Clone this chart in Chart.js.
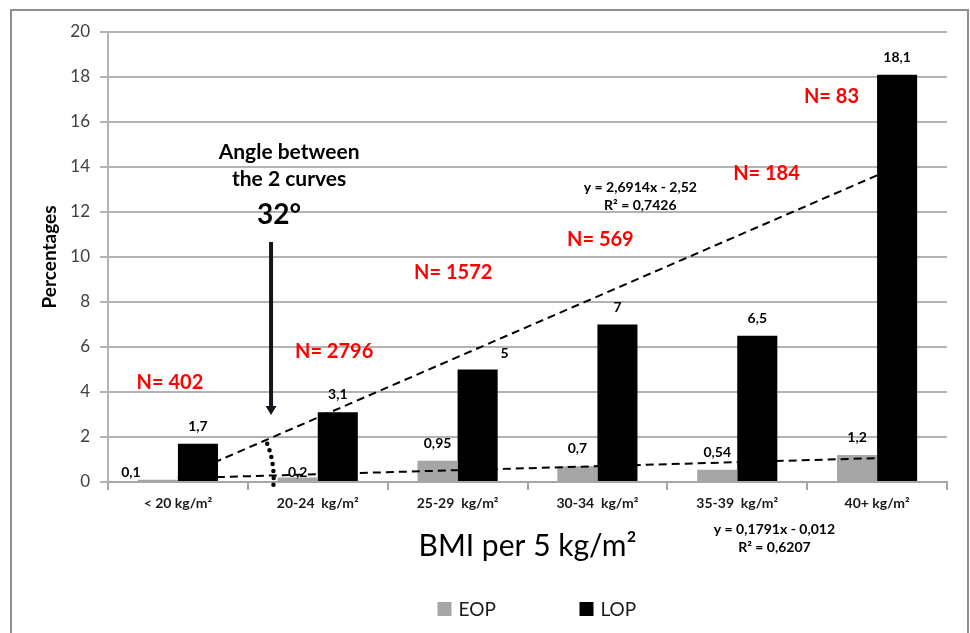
<!DOCTYPE html>
<html>
<head>
<meta charset="utf-8">
<script src="https://cdn.jsdelivr.net/npm/chart.js@4/dist/chart.umd.min.js"></script>
<style>
  html, body { margin: 0; padding: 0; background: #ffffff; }
  #wrap { width: 970px; height: 633px; position: relative; }
</style>
</head>
<body>
<div id="wrap"><canvas id="chart" width="970" height="633"></canvas></div>
<script>
// ---- data ----
const categories = ['< 20 kg/m²', '20-24  kg/m²', '25-29  kg/m²', '30-34  kg/m²', '35-39  kg/m²', '40+ kg/m²'];
const seriesNames = ['EOP', 'LOP'];
const eopValues = [0.1, 0.2, 0.95, 0.7, 0.54, 1.2];
const lopValues = [1.7, 3.1, 5, 7, 6.5, 18.1];
const sampleSizes = [402, 2796, 1572, 569, 184, 83];
const yTicks = [0, 2, 4, 6, 8, 10, 12, 14, 16, 18, 20];
const angleNote = ['Angle between', 'the 2 curves', '32°'];
const xTitle = 'BMI per 5 kg/m²';
const yTitle = 'Percentages';

const FONT = 'Lato, "Liberation Sans", sans-serif';
const EOP_COLOR = '#a6a6a6';
const LOP_COLOR = '#000000';

// least-squares fit with x = 1..n, as a spreadsheet linear trendline
function linearFit(vals) {
  const n = vals.length;
  const xs = vals.map((_, i) => i + 1);
  const mx = xs.reduce((a, b) => a + b, 0) / n;
  const my = vals.reduce((a, b) => a + b, 0) / n;
  let sxy = 0, sxx = 0, syy = 0;
  for (let i = 0; i < n; i++) {
    sxy += (xs[i] - mx) * (vals[i] - my);
    sxx += (xs[i] - mx) ** 2;
    syy += (vals[i] - my) ** 2;
  }
  const slope = sxy / sxx;
  const intercept = my - slope * mx;
  return { slope, intercept, r2: (slope * sxy) / syy };
}
const lopFit = linearFit(lopValues);
const eopFit = linearFit(eopValues);

function fitEnds(fit, n) {
  const arr = new Array(n).fill(null);
  arr[0] = fit.slope * 1 + fit.intercept;
  arr[n - 1] = fit.slope * n + fit.intercept;
  return arr;
}
const comma = v => String(v).replace('.', ',');
function eqText(fit) {
  const s = Number(fit.slope.toFixed(4));
  const b = Number(fit.intercept.toFixed(4));
  return ['y = ' + comma(s) + 'x ' + (b < 0 ? '- ' : '+ ') + comma(Math.abs(b)),
          'R² = ' + comma(fit.r2.toFixed(4))];
}

// ---- decorations drawn on top of the chart ----
const framePlugin = {
  id: 'frame',
  beforeDraw(chart) {
    const c = chart.ctx;
    c.save();
    c.fillStyle = '#ffffff';
    c.fillRect(0, 0, chart.width, chart.height);
    c.restore();
  },
  afterDraw(chart) {
    const c = chart.ctx;
    c.save();
    c.strokeStyle = '#8f8f8f';
    c.lineWidth = 2;
    c.strokeRect(11, 10, 957, 660);
    c.restore();
  }
};

// value labels above each bar
const labelOffsets = { '0-0': [-27, 10], '0-1': [0, 12], '1-2': [27, 1] };
const valueLabels = {
  id: 'valueLabels',
  afterDatasetsDraw(chart) {
    const c = chart.ctx;
    c.save();
    c.font = 'bold 14px ' + FONT;
    c.fillStyle = '#000';
    c.textAlign = 'center';
    c.textBaseline = 'middle';
    [0, 1].forEach(di => {
      const meta = chart.getDatasetMeta(di);
      const vals = chart.data.datasets[di].data;
      meta.data.forEach((bar, i) => {
        const off = labelOffsets[di + '-' + i] || [0, 0];
        c.fillText(comma(vals[i]), bar.x + off[0], bar.y - 17.5 + off[1]);
      });
    });
    c.restore();
  }
};

const notes = {
  id: 'notes',
  afterDraw(chart) {
    const c = chart.ctx;
    const xs = chart.scales.x, ys = chart.scales.y;
    const px = v => xs.getPixelForValue(v);
    const py = v => ys.getPixelForValue(v);
    c.save();

    // sample size per BMI class
    const nPos = [[-0.057, 4.44], [1.117, 5.78], [1.969, 9.29], [3.021, 10.76], [4.209, 13.69], [4.674, 17.11]];
    c.font = 'bold 20px ' + FONT;
    c.fillStyle = '#ff0000';
    c.textAlign = 'center';
    c.textBaseline = 'middle';
    sampleSizes.forEach((n, i) => c.fillText('N= ' + n, px(nPos[i][0]), py(nPos[i][1])));

    // angle annotation
    c.fillStyle = '#000';
    c.font = 'bold 21px ' + FONT;
    c.fillText(angleNote[0], px(0.795), py(14.67));
    c.fillText(angleNote[1], px(0.795), py(13.47));
    c.font = 'bold 28px ' + FONT;
    c.fillText(angleNote[2], px(0.723), py(11.87));

    // arrow pointing at the angle
    const ax = px(0.666), ay0 = py(10.67), ay1 = py(2.98);
    c.strokeStyle = '#15151f';
    c.fillStyle = '#15151f';
    c.lineWidth = 4;
    c.beginPath();
    c.moveTo(ax, ay0);
    c.lineTo(ax, ay1 - 8);
    c.stroke();
    c.beginPath();
    c.moveTo(ax - 5.5, ay1 - 9);
    c.lineTo(ax + 5.5, ay1 - 9);
    c.lineTo(ax, ay1);
    c.closePath();
    c.fill();

    // dotted arc between the two trendlines
    const xi = (eopFit.intercept - lopFit.intercept) / (lopFit.slope - eopFit.slope);
    const cx = px(xi - 1), cy = py(lopFit.slope * xi + lopFit.intercept);
    const ang = fit => Math.atan2(py(fit.slope * (xi + 1) + fit.intercept) - cy, px(xi) - cx);
    const a1 = ang(lopFit), a2 = ang(eopFit);
    c.strokeStyle = '#000';
    c.lineWidth = 4.5;
    c.lineCap = 'round';
    c.setLineDash([0, 7]);
    c.beginPath();
    c.arc(cx, cy, 96, a1 + 0.04, a2 + 0.11);
    c.stroke();
    c.setLineDash([]);
    c.lineCap = 'butt';

    // trendline equations
    c.font = 'bold 14px ' + FONT;
    c.fillStyle = '#000';
    const up = eqText(lopFit), lo = eqText(eopFit);
    c.fillText(up[0], px(3.307), py(13.11));
    c.fillText(up[1], px(3.307), py(12.27));
    c.fillText(lo[0], px(4.266), py(-2.09));
    c.fillText(lo[1], px(4.266), py(-2.93));

    // legend
    const mid = (chart.chartArea.left + chart.chartArea.right) / 2;
    const ly = 609;
    const items = [[seriesNames[0], EOP_COLOR, mid - 90], [seriesNames[1], LOP_COLOR, mid + 52]];
    c.font = '19px ' + FONT;
    c.textAlign = 'left';
    items.forEach(([t, col, x]) => {
      c.fillStyle = col;
      c.fillRect(x, ly - 7, 14, 14);
      c.fillStyle = '#1a1a1a';
      c.fillText(t, x + 21, ly + 1);
    });
    c.restore();
  }
};

new Chart(document.getElementById('chart'), {
  type: 'bar',
  data: {
    labels: categories,
    datasets: [
      { type: 'bar', label: seriesNames[0], data: eopValues, backgroundColor: EOP_COLOR,
        categoryPercentage: 0.573, barPercentage: 1, order: 2 },
      { type: 'bar', label: seriesNames[1], data: lopValues, backgroundColor: LOP_COLOR,
        categoryPercentage: 0.573, barPercentage: 1, order: 2 },
      { type: 'line', label: 'LOP trend', data: fitEnds(lopFit, lopValues.length), borderColor: '#000',
        borderWidth: 2, borderDash: [8, 5], pointRadius: 0, spanGaps: true, fill: false, order: 1 },
      { type: 'line', label: 'EOP trend', data: fitEnds(eopFit, eopValues.length), borderColor: '#000',
        borderWidth: 2, borderDash: [8, 5], pointRadius: 0, spanGaps: true, fill: false, order: 1 }
    ]
  },
  options: {
    responsive: false,
    animation: false,
    devicePixelRatio: 1,
    layout: { padding: { left: 0, top: 32, right: 23, bottom: 0 } },
    plugins: { legend: { display: false }, tooltip: { enabled: false } },
    scales: {
      x: {
        grid: { offset: true, drawOnChartArea: false, drawTicks: true, tickLength: 8, color: '#a6a6a6', lineWidth: 2 },
        border: { color: '#a6a6a6', width: 2 },
        ticks: { font: { family: FONT, size: 14, weight: 'bold' }, color: '#1a1a1a', padding: 5, maxRotation: 0, autoSkip: false },
        title: { display: true, text: xTitle, font: { family: FONT, size: 30 }, color: '#000', padding: { top: 0, bottom: 69 } },
        afterFit(s) { s.height = 151; }
      },
      y: {
        min: 0, max: 20,
        afterBuildTicks(s) { s.ticks = yTicks.map(v => ({ value: v })); },
        ticks: { font: { family: FONT, size: 17 }, color: '#404040', padding: 10 },
        grid: { color: '#b3b3b3', lineWidth: 2, tickLength: 8 },
        border: { color: '#b3b3b3', width: 2 },
        title: { display: true, text: yTitle, font: { family: FONT, size: 19, weight: 'bold' }, color: '#000', padding: { top: 38.6, bottom: 0 } },
        afterFit(s) { s.width = 108; }
      }
    }
  },
  plugins: [framePlugin, valueLabels, notes]
});
</script>
</body>
</html>
